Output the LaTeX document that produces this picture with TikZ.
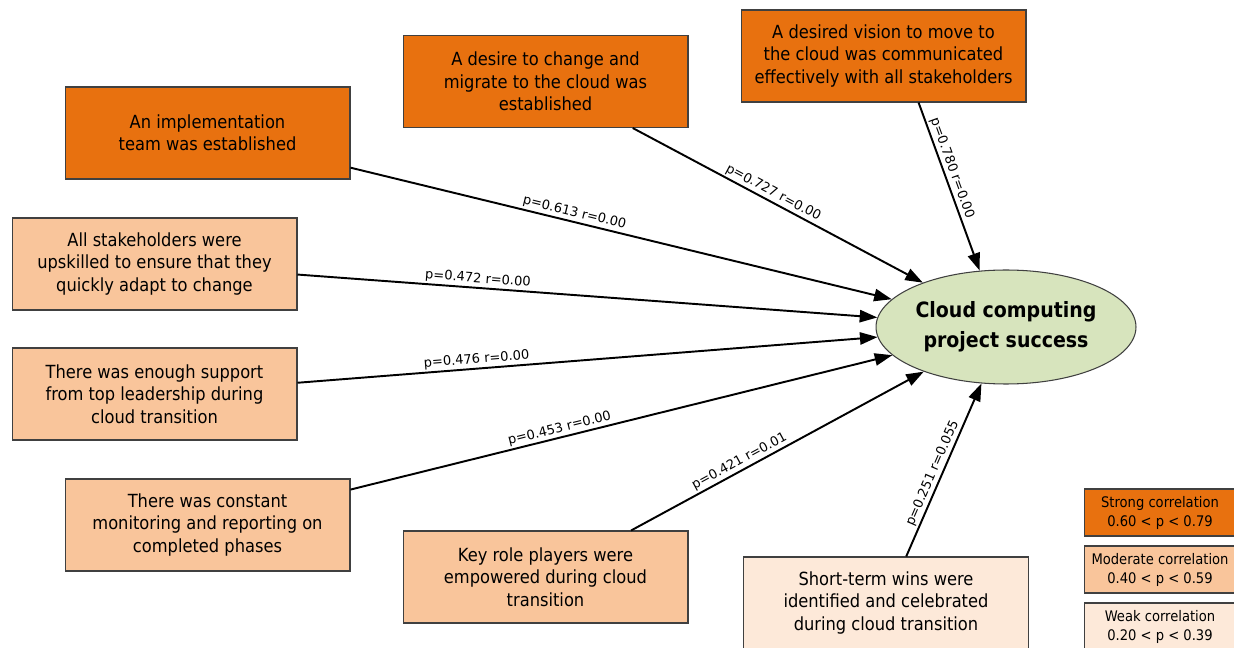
\documentclass[tikz,border=0pt]{standalone}
\usepackage{fontspec}
\setmainfont{DejaVu Sans Condensed}
\newfontfamily\edgefont{DejaVu Sans}
\usetikzlibrary{shapes.geometric,arrows.meta}
\definecolor{strongc}{HTML}{E8710F}
\definecolor{moderatec}{HTML}{F9C59B}
\definecolor{weakc}{HTML}{FDE9D9}
\definecolor{goalc}{HTML}{D7E4BD}
\begin{document}
\begin{tikzpicture}[x=0.02cm,y=-0.02cm,
  factor/.style={draw=black!75,line width=0.6pt,minimum width=5.7cm,minimum height=1.84cm,align=center,font=\fontsize{10.3}{12.8}\selectfont},
  strongbox/.style={factor,fill=strongc},
  modbox/.style={factor,fill=moderatec},
  weakbox/.style={factor,fill=weakc},
  keybox/.style={draw=black!75,line width=0.6pt,minimum width=3.04cm,minimum height=0.94cm,align=center,font=\fontsize{8.3}{10.8}\selectfont},
  link/.style={-{Triangle[length=10pt,width=7pt]},line width=1.1pt},
  plabel/.style={sloped,above,inner sep=1pt,font=\edgefont\fontsize{7.4}{9}\selectfont}]
\useasboundingbox (0,0) rectangle (1234,648);
\node[strongbox] (impl) at (207.5,133) {An implementation\\team was established};
\node[strongbox] (desire) at (545.5,81.5) {A desire to change and\\migrate to the cloud was\\established};
\node[strongbox] (vision) at (883.5,56) {A desired vision to move to\\the cloud was communicated\\effectively with all stakeholders};
\node[modbox] (upskill) at (154.5,264) {All stakeholders were\\upskilled to ensure that they\\quickly adapt to change};
\node[modbox] (support) at (154.5,394) {There was enough support\\from top leadership during\\cloud transition};
\node[modbox] (monitor) at (207.5,525) {There was constant\\monitoring and reporting on\\completed phases};
\node[modbox] (players) at (545.5,577) {Key role players were\\empowered during cloud\\transition};
\node[weakbox] (wins) at (886,603) {Short-term wins were\\identified and celebrated\\during cloud transition};
\node[ellipse,draw=black!75,line width=0.6pt,fill=goalc,inner sep=0pt,minimum width=5.2cm,minimum height=2.28cm,align=center,font=\bfseries\fontsize{12}{17}\selectfont] (success) at (1006,327) {Cloud computing\\project success};
\draw[link] (impl) -- node[plabel,pos=0.41] {p=0.613 r=0.00} (success);
\draw[link] (desire) -- node[plabel,pos=0.47] {p=0.727 r=0.00} (success);
\draw[link] (vision.-53) -- node[plabel,pos=0.41] {p=0.780 r=0.00} (success.115);
\draw[link] (upskill) -- node[plabel,pos=0.31] {p=0.472 r=0.00} (success);
\draw[link] (support) -- node[plabel,pos=0.31] {p=0.476 r=0.00} (success);
\draw[link] (monitor) -- node[plabel,pos=0.39] {p=0.453 r=0.00} (success);
\draw[link] (players) -- node[plabel,pos=0.385] {p=0.421 r=0.01} (success);
\draw[link] (wins) -- node[plabel,pos=0.46] {p=0.251 r=0.055} (success);
\node[keybox,fill=strongc] (strong) at (1160,512.5) {Strong correlation\\0.60 < p < 0.79};
\node[keybox,fill=moderatec] (moderate) at (1160,569.5) {Moderate correlation\\0.40 < p < 0.59};
\node[keybox,fill=weakc] (weak) at (1160,626.5) {Weak correlation\\0.20 < p < 0.39};
\end{tikzpicture}
\end{document}
